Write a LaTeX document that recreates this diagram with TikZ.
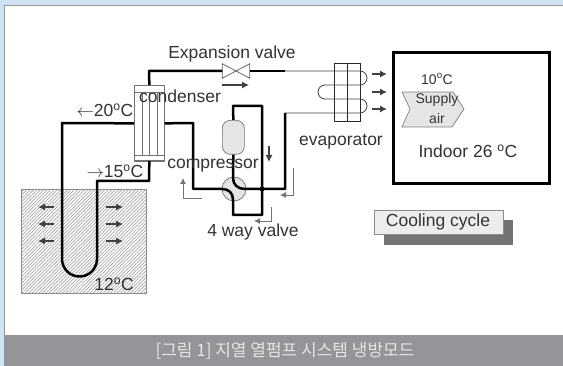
\documentclass[tikz,border=0pt]{standalone}
\usepackage{fontspec}
\setmainfont{Liberation Sans}
\newfontfamily\krfont{Noto Sans CJK KR}
\usetikzlibrary{calc,positioning,arrows.meta,patterns.meta}
\definecolor{framecol}{HTML}{CFE3F3}
\definecolor{barcol}{HTML}{939598}
\definecolor{arrowcol}{HTML}{404040}
\tikzset{txt/.style={inner sep=0, text=black!80, font=\fontsize{17.5}{19}\selectfont},
  smalltxt/.style={txt, font=\fontsize{14}{16}\selectfont},
  pipe/.style={line width=2.5pt, black, line join=round},
  tube/.style={line width=.8pt, black!75},
  flow/.style={line width=1.1pt, arrowcol, -{Latex[length=7pt,width=7pt]}},
  thinflow/.style={line width=.8pt, black!55, -{Latex[length=6pt,width=6pt]}},
  partbox/.style={draw=black!55, line width=.7pt, inner sep=0}}
\newcommand{\degc}{\textsuperscript{o}C}

\begin{document}
\begin{tikzpicture}[x=1pt,y=-1pt]
\useasboundingbox (0,0) rectangle (563,366);
\fill[framecol] (0,0) rectangle (563,366);
\fill[barcol] (4,5) rectangle (563,366);
\fill[white] (5,6) rectangle (563,335);
\node[fill=barcol, minimum width=559pt, minimum height=31pt, inner sep=0, anchor=north west] (bar) at (4,335) {};
\node[text=white!90!black, inner sep=0, font=\krfont\fontsize{17}{19}\selectfont] (caption) at (285,351) {[그림 1] 지열 열펌프 시스템 냉방모드};

% ground
\node[draw=black!45, pattern={Lines[angle=45,distance=2.4pt,line width=.7pt]}, pattern color=black!35, minimum width=125pt, minimum height=104pt, inner sep=0, anchor=north west] (ground) at (21,189) {};
\node[txt] (t12) at (114,284) {12\degc};
\foreach \y/\n in {207/a,224/b,241/c} {
  \coordinate (gl\n) at (54,\y);
  \coordinate (gle\n) at (38,\y);
  \coordinate (gr\n) at (106,\y);
  \coordinate (gre\n) at (123,\y);
  \draw[flow] (gl\n) to (gle\n);
  \draw[flow] (gr\n) to (gre\n);
}

% condenser
\node[partbox, minimum width=30pt, minimum height=76pt, anchor=north west] (condenser) at (134,85) {};
\node[partbox, minimum width=30pt, minimum height=7pt, anchor=north west] (condtop) at (134,85) {};
\node[partbox, minimum width=30pt, minimum height=5pt, anchor=south west] (condbot) at (134,161) {};
\foreach \x in {142,149,157} \draw[black!55, line width=.7pt] (\x,92) -- (\x,156);

% compressor and valve
\node[partbox, fill=black!10, rounded corners=8pt, minimum width=22pt, minimum height=34pt, anchor=north west] (compressor) at (222,120) {};
\node[partbox, circle, fill=black!10, minimum size=24pt] (fourway) at (234,189) {};
\node[inner sep=0, minimum width=27pt, minimum height=14pt] (expvalve) at (236,71) {};
\draw[black!60, line width=.8pt, fill=white] (expvalve.north west) -- (expvalve.south east) -- (expvalve.north east) -- (expvalve.south west) -- cycle;

% evaporator
\node[draw=black!85, line width=.8pt, inner sep=0, minimum width=26pt, minimum height=58pt, anchor=north west] (evap) at (334,63) {};
\draw[black!85, line width=.8pt] (evap.north) -- (evap.south);
\coordinate (evapin) at (285,71);
\coordinate (evapout) at (285,113);
\draw[tube] (evapin) -- (360,71) arc (-90:90:7) -- (325,85) arc (270:90:7) -- (360,99) arc (-90:90:7) -- (evapout);

% pipes
\draw[pipe] (condtop.north) -- (149,71) -- (expvalve.west);
\draw[pipe] (expvalve.east) -- (evapin);
\draw[pipe] (condenser.east) -- (193,123) -- (193,189) -- (222,189) .. controls (229,189) and (233,193) .. (233,200) -- (233,215) -- (262,215) -- (262,106) -- (233,106) -- (compressor.north);
\draw[pipe] (compressor.south) -- (233,178) .. controls (233,185) and (238,189) .. (245,189) -- (285,189) -- (evapout);
\draw[pipe] (condenser.west) -- (62,123) -- (62,259) arc (180:0:17.5) -- (97,181) -- (149,181) -- (condbot.south);
\fill[black] (262,189) circle (2.4pt);

% supply air and indoor
\node[draw=black, line width=2.6pt, inner sep=0, minimum width=156pt, minimum height=131pt, anchor=north west] (indoor) at (392,51) {};
\draw[draw=black!50, fill=black!10, line width=.7pt] (402,92) -- (453,92) -- (464,109) -- (452,127) -- (402,127) -- (410,109) -- cycle;
\node[smalltxt] (t10) at (437,79) {10\degc};
\node[smalltxt] (supply) at (437,100) {Supply};
\node[smalltxt] (air) at (437,118) {air};
\node[txt] (indoortxt) at (468,151) {Indoor 26 \degc};

% cooling cycle
\fill[black!55] (384,220) rectangle (513,245);
\node[draw=black!45, fill=black!7, line width=.8pt, minimum width=129pt, minimum height=24pt, inner sep=0, anchor=north west] (cooling) at (374,210) {};
\node[txt] (coolingtxt) at (438,222) {Cooling cycle};

% labels
\node[txt] (t1) at (232,54) {Expansion valve};
\node[txt] (t2) at (180,96) {condenser};
\node[txt] (t3) at (105,110) {$\leftarrow$20\degc};
\node[txt] (t4) at (115,171) {$\rightarrow$15\degc};
\node[txt] (t5) at (213,166) {compressor};
\node[txt] (t6) at (253,232) {4 way valve};
\node[txt] (t7) at (341,142) {evaporator};

% flow arrows
\draw[flow] (222,85) -- (249,85);
\foreach \y in {74,92,109} \draw[flow] (372,\y) -- (387,\y);
\draw[flow] (269,146) -- (269,162);
\draw[thinflow] (202,198) -- (183,198) -- (183,178);
\draw[thinflow] (293,168) -- (293,195) -- (280,195);
\draw[thinflow] (271,207) -- (271,221) -- (254,221);
\end{tikzpicture}
\end{document}
